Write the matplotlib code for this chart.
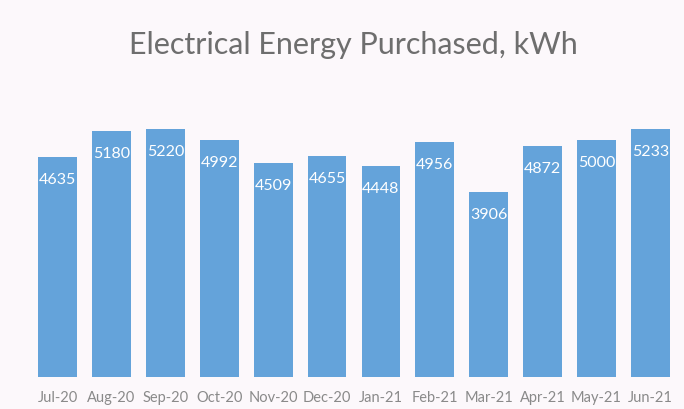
import matplotlib.pyplot as plt

months = ['Jul-20', 'Aug-20', 'Sep-20', 'Oct-20', 'Nov-20', 'Dec-20',
          'Jan-21', 'Feb-21', 'Mar-21', 'Apr-21', 'May-21', 'Jun-21']
kwh = [4635, 5180, 5220, 4992, 4509, 4655, 4448, 4956, 3906, 4872, 5000, 5233]

bg = '#fcf8fb'
fig = plt.figure(figsize=(6.84, 4.10), dpi=100, facecolor=bg)
ax = fig.add_axes([0.045, 0.078, 0.945, 0.62])
ax.set_facecolor(bg)

x = range(len(months))
ax.bar(x, kwh, width=0.72, color='#64a3da', zorder=2)

# value labels inside the top of each bar
for xi, v in zip(x, kwh):
    ax.text(xi, v - 460, str(v), ha='center', va='center', color='white',
            fontsize=11.5, family='Lato')

ax.set_xlim(-0.5, len(months) - 0.5)
ax.set_ylim(0, 5360)
ax.set_xticks(list(x))
ax.set_xticklabels(months, fontsize=10.5, color='#8a8a8a', family='Lato')
ax.set_yticks([])
ax.tick_params(axis='x', length=0, pad=9)
for s in ax.spines.values():
    s.set_visible(False)

fig.text(0.516, 0.89, 'Electrical Energy Purchased, kWh', ha='center', va='center',
         fontsize=22, color='#6e6e6e', family='Lato')

fig.savefig('out.png', dpi=100, facecolor=bg)
